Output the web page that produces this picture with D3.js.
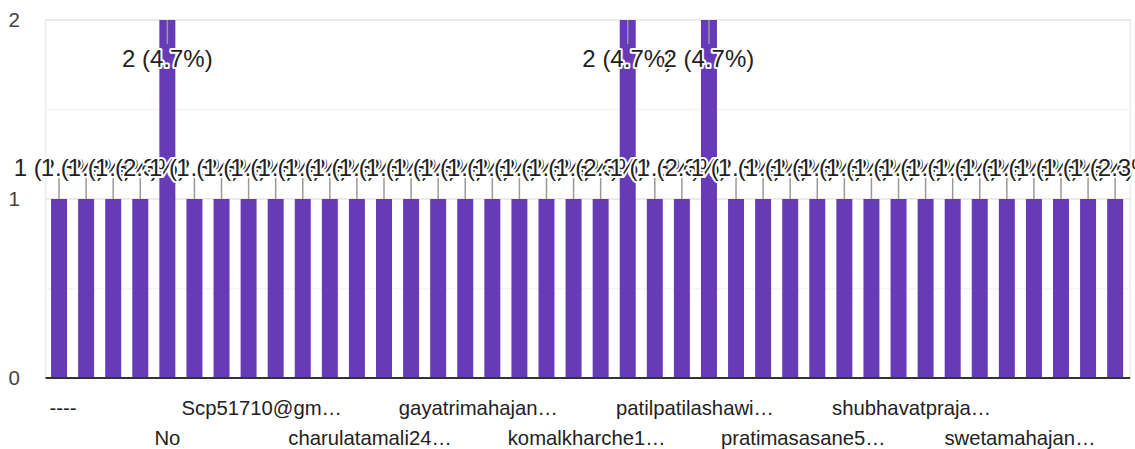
<!DOCTYPE html>
<html>
<head>
<meta charset="utf-8">
<script src="https://cdn.jsdelivr.net/npm/d3@7"></script>
<style>
  html, body { margin: 0; padding: 0; background: #fff; }
  svg { display: block; font-family: Arial, "Liberation Sans", sans-serif; }
</style>
</head>
<body>
<svg id="chart" width="1135" height="449"></svg>
<script>
// ---- data ----
// 40 response categories; only every 4th label is visible in the reference,
// the others are not readable and are kept as placeholders.
const categories = [
  "----", "(hidden 2)", "(hidden 3)", "(hidden 4)",
  "No", "(hidden 6)", "(hidden 7)", "(hidden 8)",
  "Scp51710@gm…", "(hidden 10)", "(hidden 11)", "(hidden 12)",
  "charulatamali24…", "(hidden 14)", "(hidden 15)", "(hidden 16)",
  "gayatrimahajan…", "(hidden 18)", "(hidden 19)", "(hidden 20)",
  "komalkharche1…", "(hidden 22)", "(hidden 23)", "(hidden 24)",
  "patilpatilashawi…", "(hidden 26)", "(hidden 27)", "(hidden 28)",
  "pratimasasane5…", "(hidden 30)", "(hidden 31)", "(hidden 32)",
  "shubhavatpraja…", "(hidden 34)", "(hidden 35)", "(hidden 36)",
  "swetamahajan…", "(hidden 38)", "(hidden 39)", "(hidden 40)"
];
const counts = [
  1, 1, 1, 1, 2, 1, 1, 1, 1, 1,
  1, 1, 1, 1, 1, 1, 1, 1, 1, 1,
  1, 2, 1, 1, 2, 1, 1, 1, 1, 1,
  1, 1, 1, 1, 1, 1, 1, 1, 1, 1
];
const yTicks = [0, 1, 2];
const yMinorTicks = [0.5, 1.5];
const labelEvery = 4;

// ---- chart ----
(function () {
const svg = d3.select("#chart");
const mL = 45.5, mR = 1128.7, mT = 20, mB = 378;
const total = d3.sum(counts);
const idx = d3.range(categories.length);

const x = d3.scaleBand().domain(idx).range([mL, mR])
  .paddingInner(0.41).paddingOuter(0.205);
const y = d3.scaleLinear().domain([0, 2]).range([mB, mT]);

// frame lines
svg.append("line").attr("x1", mL).attr("x2", mL).attr("y1", mT).attr("y2", mB)
  .attr("stroke", "#ebebeb").attr("stroke-width", 1.5);
svg.append("line").attr("x1", mR + 1.5).attr("x2", mR + 1.5).attr("y1", mT).attr("y2", mB)
  .attr("stroke", "#ebebeb").attr("stroke-width", 1.5);

// gridlines
svg.append("g").selectAll("line").data(yMinorTicks).join("line")
  .attr("x1", mL).attr("x2", mR + 1.5)
  .attr("y1", d => y(d)).attr("y2", d => y(d))
  .attr("stroke", "#f4f4f4").attr("stroke-width", 1.5);
svg.append("g").selectAll("line").data(yTicks.filter(d => d > 0)).join("line")
  .attr("x1", mL).attr("x2", mR + 1.5)
  .attr("y1", d => y(d)).attr("y2", d => y(d))
  .attr("stroke", "#ebebeb").attr("stroke-width", 2);

// y tick labels
svg.append("g").selectAll("text").data(yTicks).join("text")
  .attr("x", 20).attr("y", d => y(d)).attr("dy", "0.36em")
  .attr("text-anchor", "end").attr("font-size", 20.5).attr("fill", "#444")
  .text(d => d);

// bars
svg.append("g").selectAll("rect").data(idx).join("rect")
  .attr("x", i => x(i)).attr("width", x.bandwidth())
  .attr("y", i => y(counts[i])).attr("height", i => mB - y(counts[i]))
  .attr("fill", "#673ab7");

// baseline
svg.append("line").attr("x1", mL).attr("x2", mR + 1.5).attr("y1", mB).attr("y2", mB)
  .attr("stroke", "#333").attr("stroke-width", 2);

// leader lines
const maxV = d3.max(counts);
svg.append("g").selectAll("line").data(idx).join("line")
  .attr("x1", i => x(i) + x.bandwidth() / 2).attr("x2", i => x(i) + x.bandwidth() / 2)
  .attr("y1", i => y(counts[i]))
  .attr("y2", i => counts[i] === maxV ? y(counts[i]) + 24 : y(counts[i]) - 21)
  .attr("stroke", "#999").attr("stroke-width", 1.5);

// value labels
const fmt = i => `${counts[i]} (${(counts[i] / total * 100).toFixed(1)}%)`;
svg.append("g").selectAll("text").data(idx).join("text")
  .attr("x", i => x(i) + x.bandwidth() / 2)
  .attr("y", i => counts[i] === maxV ? y(counts[i]) + 47 : y(counts[i]) - 23)
  .attr("text-anchor", "middle").attr("font-size", 24).attr("fill", "#222")
  .attr("stroke", "#fff").attr("stroke-width", 4).attr("paint-order", "stroke")
  .attr("stroke-linejoin", "round")
  .text(fmt);

// x labels (every 4th, staggered in two rows)
const shown = idx.filter(i => i % labelEvery === 0);
svg.append("g").selectAll("text").data(shown).join("text")
  .attr("x", i => x(i) + x.bandwidth() / 2)
  .attr("dx", i => categories[i].endsWith("…") ? -14 : (categories[i] === "----" ? 4 : 0))
  .attr("y", (i, k) => k % 2 === 0 ? 415 : 445)
  .attr("text-anchor", "middle").attr("font-size", 20.3).attr("fill", "#222")
  .text(i => categories[i]);
})();
</script>
</body>
</html>
